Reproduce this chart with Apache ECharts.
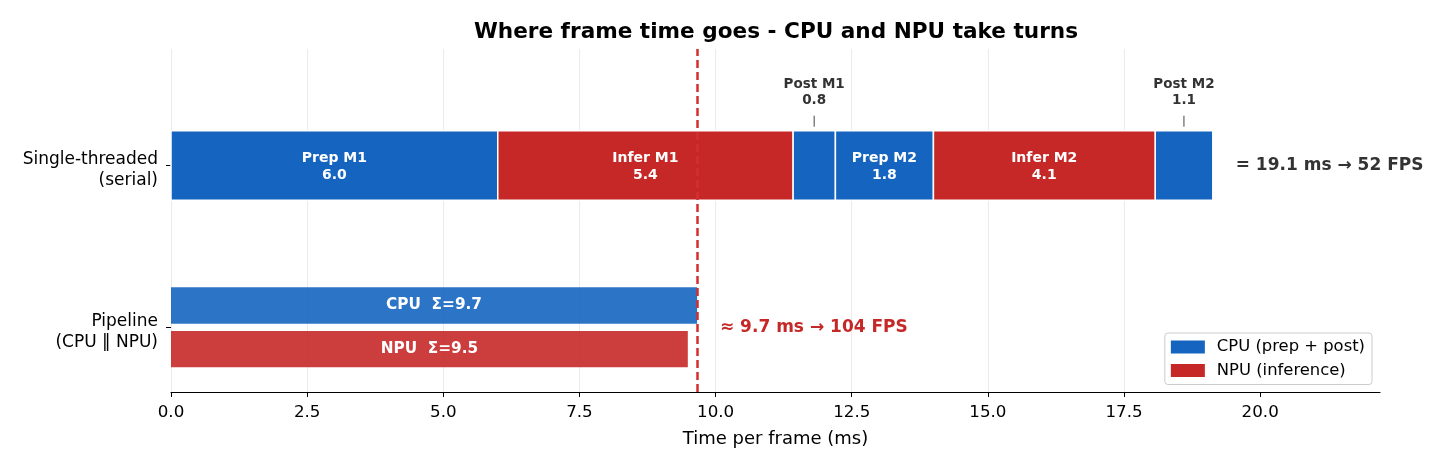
<!DOCTYPE html>
<html>
<head>
<meta charset="utf-8">
<script src="https://cdn.jsdelivr.net/npm/echarts@6/dist/echarts.min.js"></script>
<style>
  html, body { margin: 0; padding: 0; background: #fff; }
  #chart { width: 1456px; height: 468px; }
</style>
</head>
<body>
<div id="chart"></div>
<script>
// rows (y = 0 pipeline, y = 1 serial)
var rowLabels = ['Pipeline\n(CPU \u2016 NPU)', 'Single-threaded\n(serial)'];

// serial run: one stage after another
var serialStages = ['Prep M1', 'Infer M1', 'Post M1', 'Prep M2', 'Infer M2', 'Post M2'];
var serialTimes = [6.0, 5.42, 0.78, 1.8, 4.07, 1.06];
var serialUnits = ['CPU', 'NPU', 'CPU', 'CPU', 'NPU', 'CPU'];

// pipeline: both lanes busy at once
var laneNames = ['CPU', 'NPU'];
var laneTotals = [9.66, 9.49];

var xTicks = [0, 2.5, 5, 7.5, 10, 12.5, 15, 17.5, 20];

var BLUE = '#1565c0';
var RED = '#c62828';
var FONT = 'DejaVu Sans';

var serialTotal = serialTimes.reduce(function (a, b) { return a + b; }, 0);
var pipeTotal = Math.max.apply(null, laneTotals);

// build bar items
var cpuData = [], npuData = [];
var start = 0;
for (var i = 0; i < serialStages.length; i++) {
  var item = {
    value: [start, start + serialTimes[i], 1, 0.43, serialTimes[i]],
    name: serialStages[i]
  };
  (serialUnits[i] === 'CPU' ? cpuData : npuData).push(item);
  start += serialTimes[i];
}
cpuData.push({
  value: [0, laneTotals[0], 0.135, 0.225, laneTotals[0]],
  name: laneNames[0] + '  \u03a3=' + laneTotals[0].toFixed(1),
  lane: true
});
npuData.push({
  value: [0, laneTotals[1], -0.135, 0.225, laneTotals[1]],
  name: laneNames[1] + '  \u03a3=' + laneTotals[1].toFixed(1),
  lane: true
});

var renderBar = function (data) {
  return function (params, api) {
    var d = data[params.dataIndex];
    var x0 = api.value(0), x1 = api.value(1), y = api.value(2), h = api.value(3), v = api.value(4);
    var p0 = api.coord([x0, y]);
    var p1 = api.coord([x1, y]);
    var hpx = api.size([0, h])[1];
    var top = p0[1] - hpx / 2;
    var rect = {
      type: 'rect',
      shape: { x: p0[0], y: top, width: p1[0] - p0[0], height: hpx },
      style: {
        fill: api.visual('color'),
        opacity: d.lane ? 0.9 : 1,
        stroke: d.lane ? null : '#fff',
        lineWidth: 1.5
      }
    };
    var children = [rect];
    var cx = (p0[0] + p1[0]) / 2;
    if (d.lane) {
      children.push({
        type: 'text',
        style: {
          text: d.name, x: cx, y: p0[1], align: 'center', verticalAlign: 'middle',
          fill: '#fff', font: 'bold 15.3px ' + FONT
        }
      });
    } else if (v >= 1.5) {
      children.push({
        type: 'text',
        style: {
          text: d.name + '\n' + v.toFixed(1), x: cx, y: p0[1] + 1, align: 'center', verticalAlign: 'middle',
          fill: '#fff', font: 'bold 14px ' + FONT, lineHeight: 17
        }
      });
    } else {
      children.push({
        type: 'text',
        style: {
          text: d.name + '\n' + v.toFixed(1), x: cx, y: top - 22, align: 'center', verticalAlign: 'bottom',
          fill: '#333', font: 'bold 13.5px ' + FONT, lineHeight: 16
        }
      });
      children.push({
        type: 'line',
        shape: { x1: cx, y1: top - 15, x2: cx, y2: top - 4 },
        style: { stroke: '#444', lineWidth: 1 }
      });
    }
    return { type: 'group', children: children };
  };
};

// totals next to each row
var notes = [
  { value: [serialTotal + 0.42, 1], text: '= ' + serialTotal.toFixed(1) + ' ms \u2192 ' + Math.round(1000 / serialTotal) + ' FPS', color: '#333' },
  { value: [pipeTotal + 0.42, 0], text: '\u2248 ' + pipeTotal.toFixed(1) + ' ms \u2192 ' + Math.round(1000 / pipeTotal) + ' FPS', color: RED }
];

var chart = echarts.init(document.getElementById('chart'));
chart.setOption({
  animation: false,
  backgroundColor: '#fff',
  textStyle: { fontFamily: FONT },
  title: {
    text: 'Where frame time goes - CPU and NPU take turns',
    left: 771, top: 16, textAlign: 'center',
    textStyle: { fontFamily: FONT, fontSize: 21.6, fontWeight: 'bold', color: '#000' }
  },
  legend: {
    orient: 'vertical',
    right: 84, top: 333,
    itemWidth: 34, itemHeight: 13, itemGap: 7.5,
    padding: [6, 7, 6, 6],
    backgroundColor: '#fff',
    borderColor: '#ccc', borderWidth: 1, borderRadius: 3,
    icon: 'rect',
    textStyle: { fontFamily: FONT, fontSize: 16.4, color: '#000', padding: [0, 0, 0, 7] },
    data: ['CPU (prep + post)', 'NPU (inference)']
  },
  grid: { left: 171, right: 76, top: 49, bottom: 76, containLabel: false },
  xAxis: {
    type: 'value', min: 0, max: 22.2, interval: 2.5,
    name: 'Time per frame (ms)', nameLocation: 'middle', nameGap: 38,
    nameTextStyle: { fontFamily: FONT, fontSize: 18, color: '#000' },
    axisLine: { show: true, onZero: false, lineStyle: { color: '#000', width: 1.2 } },
    axisTick: { show: true, customValues: xTicks, length: 5, lineStyle: { color: '#000' } },
    axisLabel: {
      customValues: xTicks, margin: 12,
      fontFamily: FONT, fontSize: 16.7, color: '#000',
      formatter: function (v) { return v.toFixed(1); }
    },
    splitLine: { show: true, showMaxLine: false, lineStyle: { color: '#ebebeb', width: 1 } }
  },
  yAxis: {
    type: 'value', min: -0.4, max: 1.72,
    axisLine: { show: false },
    axisTick: { show: true, customValues: [0, 1], length: 5, lineStyle: { color: '#000' } },
    axisLabel: {
      // labels sit a touch below their ticks, as in matplotlib
      customValues: [-0.028, 0.972], margin: 13,
      fontFamily: FONT, fontSize: 17, color: '#000', lineHeight: 21, align: 'right',
      formatter: function (v) { return rowLabels[Math.round(v)]; }
    },
    splitLine: { show: false }
  },
  series: [
    {
      name: 'CPU (prep + post)', type: 'custom',
      itemStyle: { color: BLUE },
      encode: { x: [0, 1], y: 2 },
      renderItem: renderBar(cpuData),
      data: cpuData,
      markLine: {
        silent: true, symbol: 'none', label: { show: false },
        lineStyle: { color: '#d32f2f', width: 2.5, type: [8, 4] },
        data: [{ xAxis: pipeTotal }]
      },
      z: 3
    },
    {
      name: 'NPU (inference)', type: 'custom',
      itemStyle: { color: RED },
      encode: { x: [0, 1], y: 2 },
      renderItem: renderBar(npuData),
      data: npuData,
      z: 3
    },
    {
      name: 'notes', type: 'custom',
      encode: { x: 0, y: 1 },
      renderItem: function (params, api) {
        var n = notes[params.dataIndex];
        var p = api.coord([api.value(0), api.value(1)]);
        return {
          type: 'text',
          style: {
            text: n.text, x: p[0], y: p[1], align: 'left', verticalAlign: 'middle',
            fill: n.color, font: 'bold 17px ' + FONT
          }
        };
      },
      data: notes.map(function (n) { return n.value; }),
      z: 4
    }
  ]
});
</script>
</body>
</html>
